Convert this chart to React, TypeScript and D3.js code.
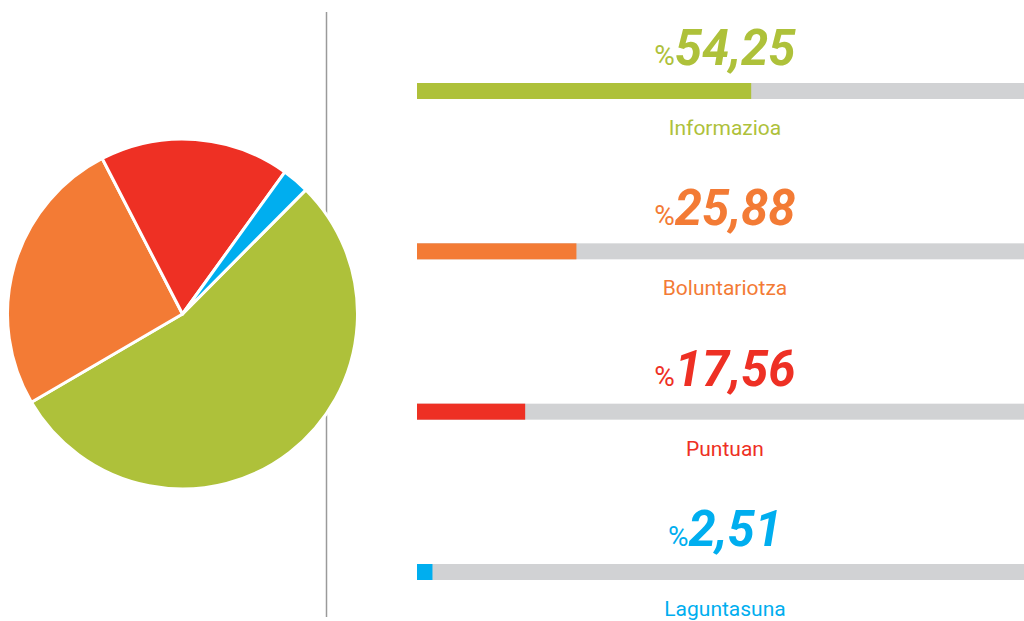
import React from "react";
import * as d3 from "d3";

const categories = ["Informazioa", "Boluntariotza", "Puntuan", "Laguntasuna"];
const values = [54.25, 25.88, 17.56, 2.51];
const valueLabels = ["54,25", "25,88", "17,56", "2,51"];
const colors = ["#AEC13A", "#F37B35", "#EE3024", "#00AEEF"];

const W = 1024;
const H = 621;

export default function App() {
  const cx = 182.5, cy = 314, r = 175;
  const start = (44.8 * Math.PI) / 180;
  const pie = d3
    .pie<number>()
    .sort(null)
    .value((d) => d)
    .startAngle(start)
    .endAngle(start + 2 * Math.PI);
  const arcs = pie(values);
  const arc = d3.arc<d3.PieArcDatum<number>>().innerRadius(0).outerRadius(r);

  const barX0 = 417, barX1 = 1033;
  const x = d3.scaleLinear().domain([0, 100]).range([barX0, barX1]);
  const y = d3.scaleLinear().domain([0, 3]).range([83, 564]);
  const barH = 16;
  const textX = (barX0 + barX1) / 2;

  return (
    <svg width={W} height={H} style={{ position: "absolute", left: 0, top: 0, background: "#fff" }}>
      <line x1={326.5} x2={326.5} y1={12} y2={617} stroke="#9a9a9a" strokeWidth={1.5} />
      <g transform={`translate(${cx},${cy})`}>
        {arcs.map((a, i) => (
          <path key={i} d={arc(a) || ""} fill={colors[i]} stroke="#fff" strokeWidth={3} strokeLinejoin="round" />
        ))}
      </g>
      {categories.map((c, i) => {
        const by = y(i);
        return (
          <g key={c}>
            <text x={textX} y={by - 18} textAnchor="middle" fill={colors[i]} fontFamily="Roboto">
              <tspan fontSize={28} fontWeight={400}>%</tspan>
              <tspan fontSize={49} fontWeight={700} fontStyle="italic">{valueLabels[i]}</tspan>
            </text>
            <rect x={barX0} y={by} width={barX1 - barX0} height={barH} fill="#D1D2D4" />
            <rect x={barX0} y={by} width={x(values[i]) - barX0} height={barH} fill={colors[i]} />
            <text x={textX} y={by + 52} textAnchor="middle" fill={colors[i]} fontFamily="Roboto" fontSize={21}>
              {c}
            </text>
          </g>
        );
      })}
    </svg>
  );
}
